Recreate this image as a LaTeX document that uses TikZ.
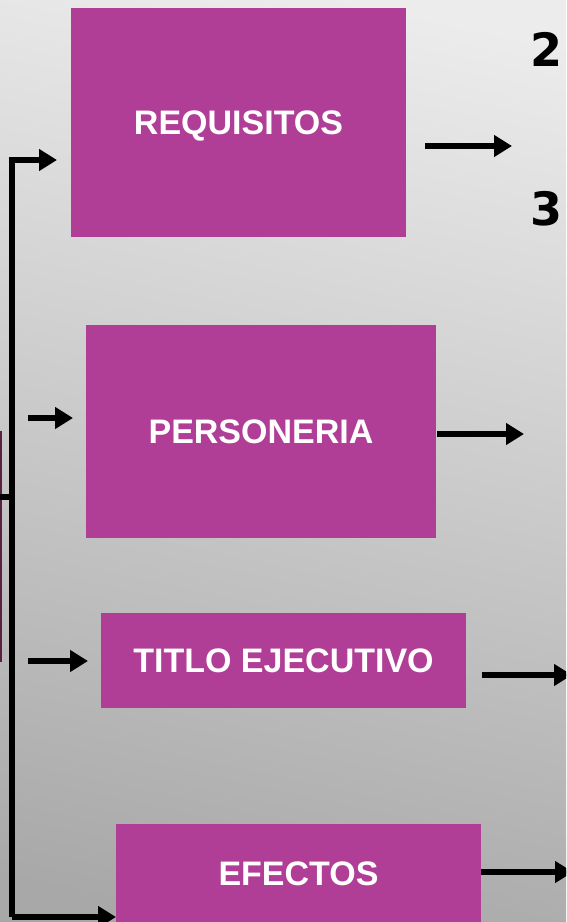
\documentclass[tikz,border=0pt]{standalone}
\usepackage{fontspec}
\setmainfont{Liberation Sans}
\newfontfamily\numfont{DejaVu Sans}
\usetikzlibrary{arrows.meta}
\definecolor{boxc}{RGB}{176,62,150}
\definecolor{barc}{RGB}{90,34,66}
\definecolor{bgtop}{RGB}{236,236,236}
\definecolor{bgbot}{RGB}{168,168,168}
\tikzset{
  box/.style={fill=boxc, text=white, inner sep=0pt, text height=24.5pt, text depth=0pt, font=\fontsize{34}{40}\selectfont\bfseries},
  arr/.style={line width=6pt, -{Triangle[length=18pt,width=21pt]}},
  ln/.style={line width=6pt},
  num/.style={font=\numfont\fontsize{46}{50}\selectfont\bfseries, inner sep=0pt, anchor=west}
}
\begin{document}
\begin{tikzpicture}[x=1pt,y=-1pt]
\useasboundingbox (0,0) rectangle (566,922);
\clip (0,0) rectangle (566,922);
\shade[top color=bgtop, bottom color=bgbot, shading angle=-12] (-40,-40) rectangle (606,962);
% left partial bar
\fill[barc] (0,431) rectangle (2,662);
% boxes
\node[box, minimum width=335pt, minimum height=229pt] (req) at (238.5,122.5) {REQUISITOS};
\node[box, minimum width=350pt, minimum height=213pt] (pers) at (261,431.5) {PERSONERIA};
\node[box, minimum width=365pt, minimum height=95pt] (tit) at (283.5,660.5) {TITLO EJECUTIVO};
\node[box, minimum width=365pt, minimum height=98pt] (ef) at (298.5,873) {EFECTOS};
% numbers at right
\node[num] (n2) at (530,49) {2};
\node[num] (n3) at (530,209) {3};
% coordinates
\coordinate (vtop) at (12,160);
\coordinate (vbot) at (12,917);
\coordinate (tick) at (0,497);
\coordinate (tickend) at (12,497);
\coordinate (t1) at (57,160);
\coordinate (t4) at (116,917);
\coordinate (s2) at (28,418);
\coordinate (t2) at (73,418);
\coordinate (s3) at (28,661);
\coordinate (t3) at (88,661);
\coordinate (r1s) at (425,146);
\coordinate (r1t) at (512,146);
\coordinate (r2t) at (524,434);
\coordinate (r3s) at (482,675);
\coordinate (r3t) at (572,675);
\coordinate (r4t) at (573,872);
% connectors
\draw[ln] (tick) -- (tickend);
\draw[arr] (vbot) -- (vtop) -- (t1);
\draw[arr] (vtop |- vbot) -- (t4);
\draw[arr] (s2) -- (t2);
\draw[arr] (s3) -- (t3);
\draw[arr] (r1s) -- (r1t);
\draw[arr] (pers.east |- r2t) ++(1,0) -- (r2t);
\draw[arr] (r3s) -- (r3t);
\draw[arr] (ef.east |- r4t) -- (r4t);
\end{tikzpicture}
\end{document}
